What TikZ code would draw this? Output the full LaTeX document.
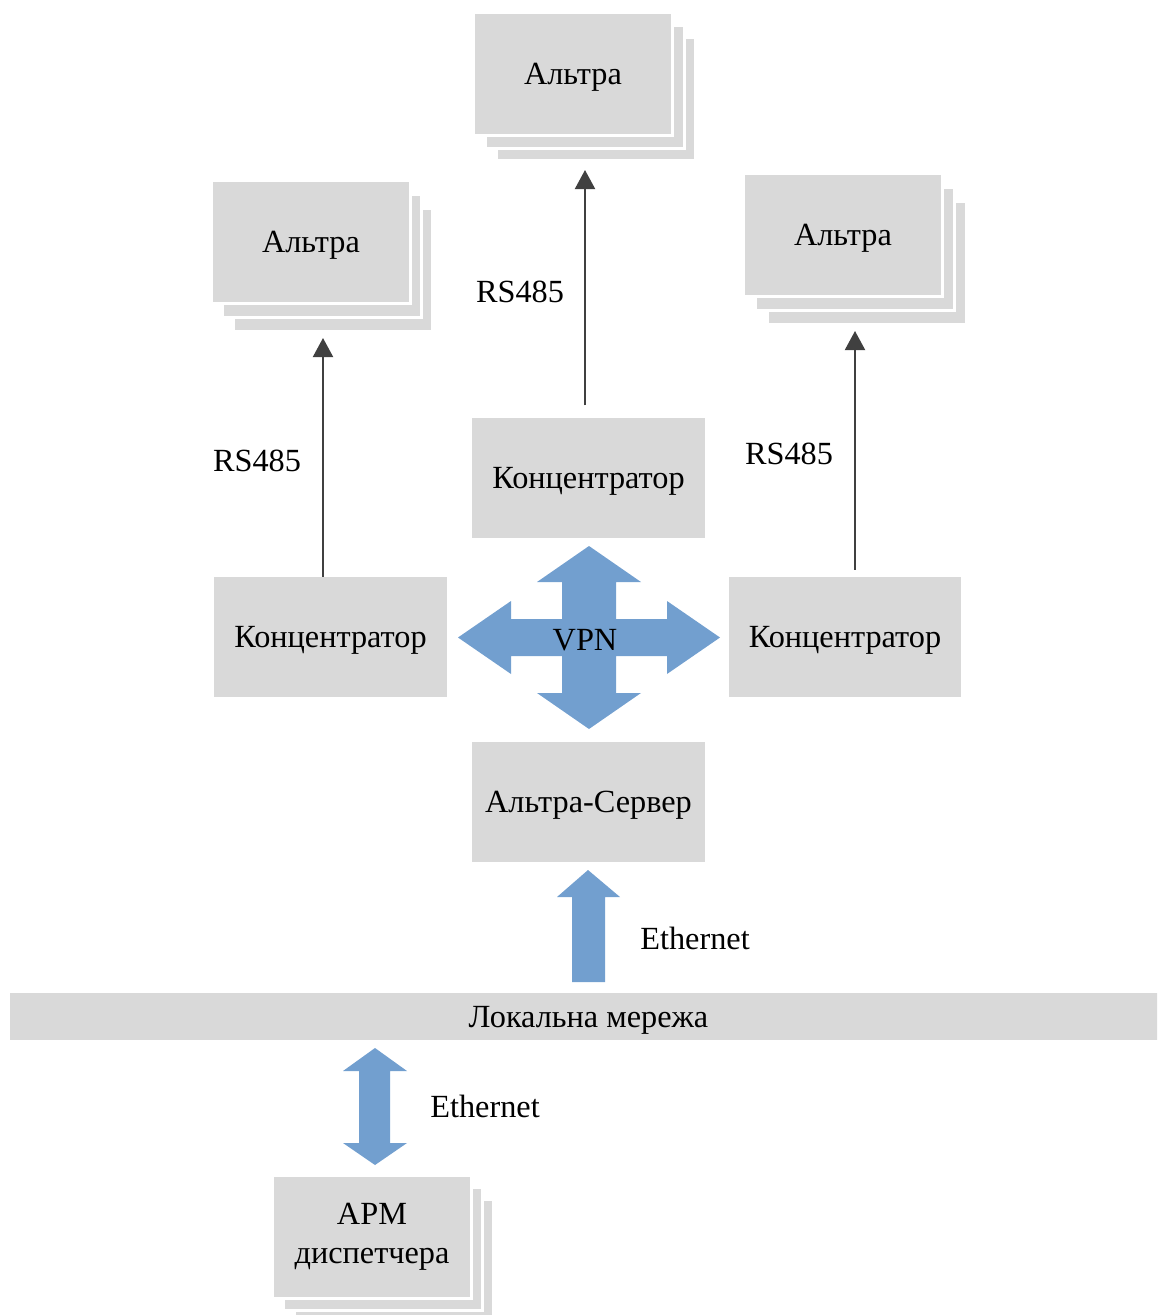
\documentclass[tikz,border=0pt]{standalone}
\usepackage{fontspec}
\setmainfont{Liberation Serif}
\usetikzlibrary{arrows.meta,shadows}
\definecolor{boxgray}{RGB}{217,217,217}
\definecolor{vpnblue}{RGB}{114,159,207}
\definecolor{arrowgray}{RGB}{64,64,64}
\tikzset{
  box/.style={fill=boxgray, draw=none, minimum width=233pt, minimum height=120pt, inner sep=0pt, align=center, text depth=0pt},
  stackbox/.style 2 args={fill=boxgray, draw=white, line width=3pt, minimum width=199pt, minimum height=123pt, inner sep=0pt, align=center,
    double copy shadow={shadow xshift=#1, shadow yshift=-#2, fill=boxgray, draw=white, line width=3pt}},
  rsarrow/.style={draw=arrowgray, line width=2pt, -{Triangle[width=20pt,length=19pt]}},
  blockarrow/.style={fill=vpnblue, draw=none},
  lbl/.style={inner sep=0pt}
}
\begin{document}
\begin{tikzpicture}[x=1pt,y=-1pt,font=\fontsize{32.3}{37}\selectfont]
\useasboundingbox (0,0) rectangle (1157,1315);
\clip (0,0) rectangle (1157,1315);

% stacked Altra boxes
\node[stackbox={11.5pt}{12.5pt}, text depth=0pt] (a1) at (573,74) {Альтра};
\node[stackbox={11pt}{14pt}, text depth=0pt] (a2) at (311,242) {Альтра};
\node[stackbox={12pt}{14pt}, text depth=0pt] (a3) at (843,235) {Альтра};

% concentrators and server
\node[box] (k1) at (588.5,477.5) {Концентратор};
\node[box] (k2) at (330.5,637) {Концентратор};
\node[box, minimum width=232pt] (k3) at (845,637) {Концентратор};
\node[box] (srv) at (588.5,802) {Альтра-Сервер};

% local network bar
\node[box, minimum width=1157pt, minimum height=47pt] (lan) at (588.5,1016.5) {Локальна мережа};

% operator workstation
\node[stackbox={11pt}{12pt}, font=\fontsize{32.3}{39}\selectfont] (apm) at (372,1237) {АРМ\\диспетчера};

% RS485 connectors
\coordinate (k1top) at ([xshift=-3.5pt,yshift=12pt]k1.north);
\coordinate (a1tip) at ([yshift=-33pt]a1.south);
\draw[rsarrow] (k1top) -- (k1top |- a1tip);
\coordinate (k2top) at ([xshift=-7.5pt]k2.north);
\coordinate (a2tip) at ([yshift=-33pt]a2.south);
\draw[rsarrow] (k2top) -- (k2top |- a2tip);
\coordinate (k3top) at ([xshift=10pt,yshift=7pt]k3.north);
\coordinate (a3tip) at ([yshift=-33pt]a3.south);
\draw[rsarrow] (k3top) -- (k3top |- a3tip);

\node[lbl] (rs1) at (520,292) {RS485};
\node[lbl] (rs2) at (257,461) {RS485};
\node[lbl] (rs3) at (789,454) {RS485};

% VPN four-way arrow
\fill[blockarrow] (589,546) -- (641,582) -- (616,582) -- (616,619) -- (667,619) -- (667,601)
  -- (720,637.5) -- (667,674) -- (667,656) -- (616,656) -- (616,693) -- (641,693)
  -- (589,729) -- (537,693) -- (562,693) -- (562,656) -- (511,656) -- (511,674)
  -- (458,637.5) -- (511,601) -- (511,619) -- (562,619) -- (562,582) -- (537,582) -- cycle;
\node[lbl] (vpn) at (585,640) {VPN};

% Ethernet up arrow (LAN -> server)
\fill[blockarrow] (588,870) -- (620,897) -- (605,897) -- (605,982) -- (572,982) -- (572,897) -- (557,897) -- cycle;
\node[lbl] (eth1) at (695,938) {Ethernet};

% Ethernet double arrow (LAN <-> APM)
\fill[blockarrow] (375,1048) -- (407,1071) -- (390,1071) -- (390,1143) -- (407,1143) -- (375,1165)
  -- (343,1143) -- (359,1143) -- (359,1071) -- (343,1071) -- cycle;
\node[lbl] (eth2) at (485,1106) {Ethernet};
\end{tikzpicture}
\end{document}
